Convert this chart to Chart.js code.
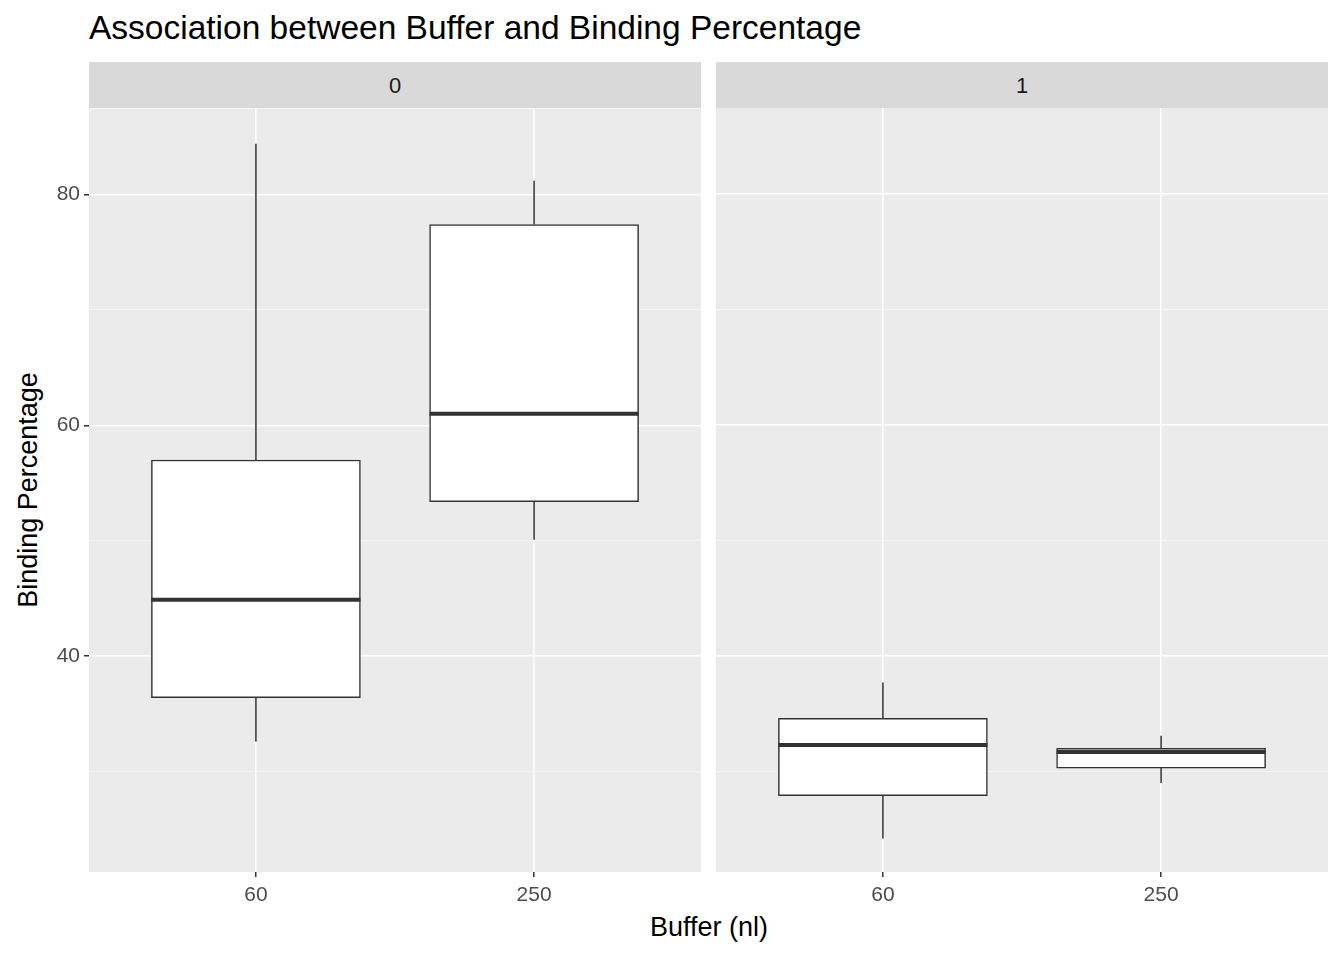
<!DOCTYPE html>
<html><head><meta charset="utf-8">
<script src="https://cdn.jsdelivr.net/npm/chart.js@4/dist/chart.umd.min.js"></script>
<style>
body{margin:0;width:1344px;height:960px;background:#fff;position:relative;font-family:Arial,"Liberation Sans",sans-serif;overflow:hidden}
.t{position:absolute;white-space:nowrap}
.strip{position:absolute;top:62px;height:46px;background:#d9d9d9;color:#1a1a1a;font-size:22px;text-align:center;line-height:48px}
.wrap{position:absolute;top:108px;height:812px}
</style></head><body>
<div class="t" style="left:89px;top:9px;font-size:33.5px;color:#000">Association between Buffer and Binding Percentage</div>
<div class="strip" style="left:89px;width:612px">0</div>
<div class="strip" style="left:716px;width:612px">1</div>
<div class="t" style="left:709px;top:912px;font-size:27px;transform:translateX(-50%)">Buffer (nl)</div>
<div class="t" style="left:28px;top:490px;font-size:27px;transform:translate(-50%,-50%) rotate(-90deg)">Binding Percentage</div>
<div class="wrap" style="left:29px;width:672px;top:92px;height:828px"><canvas id="c0"></canvas></div>
<div class="wrap" style="left:716px;width:612px"><canvas id="c1"></canvas></div>
<script>
// Buffer categories and box statistics per facet
const buffers = ["60", "250"];
const facet0Min = [32.6, 50.1];
const facet0Q1 = [36.4, 53.4];
const facet0Med = [44.9, 61.0];
const facet0Q3 = [57.0, 77.4];
const facet0Max = [84.4, 81.2];
const facet1Min = [24.2, 29.0];
const facet1Q1 = [27.9, 30.3];
const facet1Med = [32.3, 31.7];
const facet1Q3 = [34.6, 32.0];
const facet1Max = [37.7, 33.1];
const yTicks = [40, 60, 80];

const bgPlugin = {
  id: "bg",
  beforeDraw(c) {
    const a = c.chartArea, x = c.ctx;
    x.save(); x.fillStyle = "#ebebeb"; x.fillRect(a.left, a.top, a.right - a.left, a.bottom - a.top); x.restore();
  }
};
const boxPlugin = {
  id: "box",
  afterDatasetsDraw(c) {
    const s = c.options.plugins.box, xs = c.scales.x, ys = c.scales.y, ctx = c.ctx;
    const half = 104.5;
    ctx.save(); ctx.strokeStyle = "#333333";
    s.med.forEach((m, i) => {
      const px = xs.getPixelForValue(i + 1);
      ctx.lineWidth = 1.5;
      ctx.beginPath();
      ctx.moveTo(px, ys.getPixelForValue(s.max[i])); ctx.lineTo(px, ys.getPixelForValue(s.q3[i]));
      ctx.moveTo(px, ys.getPixelForValue(s.q1[i])); ctx.lineTo(px, ys.getPixelForValue(s.min[i]));
      ctx.stroke();
      ctx.lineWidth = 4;
      ctx.beginPath();
      ctx.moveTo(px - half, ys.getPixelForValue(m)); ctx.lineTo(px + half, ys.getPixelForValue(m));
      ctx.stroke();
    });
    ctx.restore();
  }
};

function make(id, mn, q1, md, q3, mx, showY) {
  new Chart(document.getElementById(id), {
    type: "bar",
    data: { datasets: [{
      data: q1.map((v, i) => ({ x: i + 1, y: [v, q3[i]] })),
      backgroundColor: "#ffffff", borderColor: "#333333", borderWidth: 1.5,
      borderSkipped: false, barThickness: 209
    }]},
    options: {
      responsive: false, animation: false, devicePixelRatio: 1,
      layout: { padding: 0 },
      plugins: { legend: { display: false }, tooltip: { enabled: false },
        box: { min: mn, q1: q1, med: md, q3: q3, max: mx } },
      scales: {
        x: { type: "linear", min: 0.4, max: 2.6, offset: false,
          afterBuildTicks(ax) { ax.ticks = [{ value: 1 }, { value: 2 }]; },
          ticks: { callback: (v) => buffers[v - 1], color: "#4d4d4d", font: { size: 21, family: "Arial" }, padding: 6 },
          grid: { offset: false, color: "#ffffff", lineWidth: 1.5, tickLength: 5, tickColor: "#333333" },
          border: { display: false },
          afterFit(ax) { ax.height = 48; } },
        y: { min: 21.3, max: 87.45,
          afterBuildTicks(ax) { ax.ticks = [30, 40, 50, 60, 70, 80].map(v => ({ value: v })); },
          ticks: { display: showY, color: "#4d4d4d", font: { size: 21, family: "Arial" }, padding: 4,
            callback: (v) => yTicks.includes(v) ? v : "" },
          grid: { color: (c) => yTicks.includes(c.tick.value) ? "#ffffff" : "#f7f7f7",
            lineWidth: (c) => yTicks.includes(c.tick.value) ? 1.5 : 0.8,
            tickLength: showY ? 5 : 0,
            tickColor: (c) => yTicks.includes(c.tick.value) ? "#333333" : "rgba(0,0,0,0)" },
          border: { display: false },
          afterFit(ax) { ax.width = showY ? 60 : 0; } }
      }
    },
    plugins: [bgPlugin, boxPlugin]
  });
}
const c0 = document.getElementById("c0"); c0.width = 672; c0.height = 828;
const c1 = document.getElementById("c1"); c1.width = 612; c1.height = 812;
make("c0", facet0Min, facet0Q1, facet0Med, facet0Q3, facet0Max, true);
make("c1", facet1Min, facet1Q1, facet1Med, facet1Q3, facet1Max, false);
</script>
</body></html>
